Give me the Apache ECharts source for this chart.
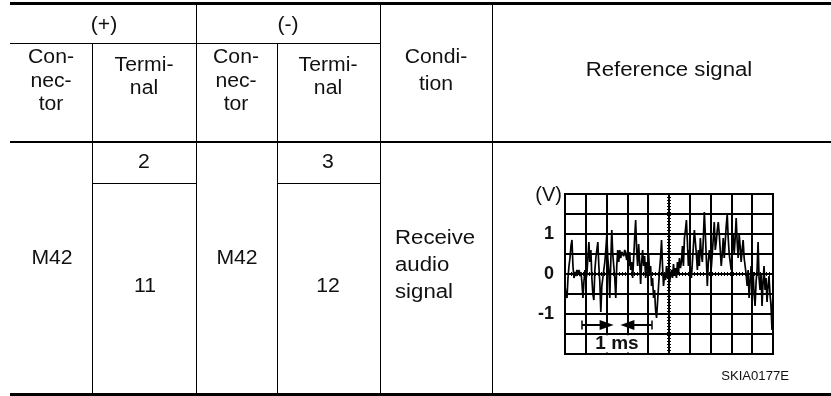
<!DOCTYPE html>
<html>
<head>
<meta charset="utf-8">
<script src="https://cdn.jsdelivr.net/npm/echarts@6/dist/echarts.min.js"></script>
<style>
html,body{margin:0;padding:0;background:#fff;}
#c{width:831px;height:396px;}
</style>
</head>
<body>
<div id="c"></div>
<script>
// ---- Table content ----
const headerGroups = ['(+)', '(-)'];
const headerCols = ['Con-\nnec-\ntor', 'Termi-\nnal', 'Con-\nnec-\ntor', 'Termi-\nnal', 'Condi-\ntion', 'Reference signal'];
const plusConnector = 'M42';
const plusTerminals = ['2', '11'];
const minusConnector = 'M42';
const minusTerminals = ['3', '12'];
const conditionText = 'Receive\naudio\nsignal';
const figureCode = 'SKIA0177E';

// ---- Oscilloscope trace: volts, one sample per screen column across 10 divisions (1 ms/div) ----
const spanMs = 10;
const yTickLabels = ['1', '0', '-1'];
const timeMarkLabel = '1 ms';
const volts = [
 -0.3,-0.5,-0.6,-0.1,0.2,0.4,0.7,0.85,0.2,-0.1,
 0.05,-0.05,0.1,0.0,0.1,-0.05,0.05,-0.2,-0.6,-0.2,
 0.1,-0.15,0.0,0.4,0.8,0.3,0.6,-0.1,-0.5,-0.65,
 0.1,0.4,0.6,0.8,0.2,-0.2,-0.95,-0.3,-0.1,0.1,
 0.3,0.6,0.97,0.4,0.1,-0.6,0.3,1.1,0.5,0.2,
 -0.1,-0.6,0.2,0.6,0.3,0.6,0.4,0.55,0.6,0.45,
 0.6,0.5,0.35,0.6,0.2,0.55,0.1,0.3,-0.1,0.4,
 0.9,1.35,0.6,0.2,0.75,0.3,-0.25,0.3,0.6,0.2,
 0.45,-0.1,0.3,0.1,0.5,0.05,0.2,-0.3,-0.1,-0.6,
 -0.4,-0.9,-1.1,-0.7,-0.3,0.1,0.4,0.85,0.2,-0.3,
 0.0,-0.15,0.2,-0.1,0.15,-0.2,-0.05,0.1,-0.1,0.25,
 -0.05,0.15,-0.1,0.3,0.0,0.4,0.15,0.3,0.7,0.2,
 0.9,1.1,1.35,0.8,0.2,0.6,0.1,-0.1,0.3,0.7,
 1.1,1.1,0.5,0.1,0.6,0.2,0.9,0.5,0.3,0.9,
 1.55,1.0,0.4,-0.3,0.3,0.6,0.4,0.15,0.5,0.9,
 1.3,0.6,0.8,1.1,1.3,1.0,0.6,0.2,0.5,0.9,
 0.4,0.8,1.2,1.5,0.9,0.5,0.3,0.1,0.6,1.0,
 0.5,0.9,1.4,0.8,0.4,1.0,0.7,0.3,0.6,0.85,
 0.4,0.2,0.0,-0.3,0.1,-0.6,-0.2,0.2,-0.3,0.05,
 -0.5,-0.8,-0.2,0.1,0.8,-0.1,-0.4,0.0,-0.8,-0.2,
 0.2,-0.4,-0.1,-0.7,-0.3,-0.05,-0.5,-0.8,-1.4,-0.4
];

const trace = volts.map((v, i) => [i * spanMs / (volts.length - 1), v]);

const FONT = '"Liberation Sans", Arial, Helvetica, sans-serif';
const INK = '#111';

function hline(x1, x2, y, h) {
  return {type: 'rect', shape: {x: x1, y: y, width: x2 - x1, height: h}, style: {fill: '#000'}, silent: true};
}
function vline(x, y1, y2, w) {
  return {type: 'rect', shape: {x: x, y: y1, width: w || 1, height: y2 - y1}, style: {fill: '#000'}, silent: true};
}
function txt(s, x, y, opts) {
  opts = opts || {};
  return {
    type: 'text', x: x, y: y, silent: true, scaleX: opts.sx || 1.06,
    style: {
      text: s, fill: INK, font: (opts.size || 20) + 'px ' + FONT,
      align: opts.align || 'center', verticalAlign: 'middle', lineHeight: opts.lh || 23
    }
  };
}

const graphics = [
  hline(10, 831, 2, 3),
  hline(10, 380, 43, 1),
  hline(10, 831, 141, 2),
  hline(10, 831, 393, 3),
  vline(92, 43, 393),
  vline(196, 5, 393),
  vline(277, 43, 393),
  vline(380, 5, 393),
  vline(492, 5, 393),
  hline(92, 196, 183, 1),
  hline(277, 380, 183, 1),
  txt(headerGroups[0], 104, 25),
  txt(headerGroups[1], 288, 25),
  txt(headerCols[0], 51, 81, {lh: 23.5}),
  txt(headerCols[1], 144, 76.5, {lh: 23}),
  txt(headerCols[2], 236, 81, {lh: 23.5}),
  txt(headerCols[3], 328, 76.5, {lh: 23}),
  txt(headerCols[4], 436, 70.5, {lh: 27}),
  txt(headerCols[5], 669, 70, {sx: 1.11}),
  txt(plusTerminals[0], 144, 162),
  txt(minusTerminals[0], 328, 162),
  txt(plusConnector, 52, 258),
  txt(minusConnector, 237, 258),
  txt(plusTerminals[1], 145, 286),
  txt(minusTerminals[1], 328, 286),
  txt(conditionText, 395, 265, {align: 'left', lh: 27, sx: 1.11}),
  txt(figureCode, 789, 377, {size: 12.5, align: 'right', sx: 1.05})
];

const chart = echarts.init(document.getElementById('c'), null, {renderer: 'canvas'});
chart.setOption({
  animation: false,
  backgroundColor: '#fff',
  grid: {left: 565, top: 194, width: 208, height: 160, show: true, borderColor: '#000', borderWidth: 2, containLabel: false},
  xAxis: {
    type: 'value', min: 0, max: spanMs, interval: 1,
    axisLine: {show: false}, axisTick: {show: false}, axisLabel: {show: false},
    splitLine: {show: true, lineStyle: {color: '#000', width: 2}}
  },
  yAxis: {
    type: 'value', min: -2, max: 2, interval: 0.5,
    name: '(V)', nameLocation: 'end', nameGap: -1,
    nameTextStyle: {fontFamily: FONT, fontSize: 20, color: INK, align: 'right', verticalAlign: 'middle', padding: [0, 3, 0, 0]},
    axisLine: {show: false}, axisTick: {show: false},
    axisLabel: {
      margin: 11, fontFamily: FONT, fontSize: 18, fontWeight: 'bold', color: INK,
      formatter: v => (yTickLabels.indexOf(String(v)) >= 0 ? String(v) : '')
    },
    splitLine: {show: true, lineStyle: {color: '#000', width: 2}}
  },
  series: [
    {
      type: 'line', data: [], z: 1, silent: true,
      markLine: {
        silent: true, animation: false, symbol: 'none',
        label: {show: false},
        lineStyle: {color: '#000', width: 4, type: [1, 2]},
        data: [
          {xAxis: spanMs / 2},
          {yAxis: 0},
          [{coord: [0.82, -1.275], symbol: 'none', lineStyle: {type: 'solid', width: 2}}, {coord: [2, -1.275], symbol: 'triangle', symbolSize: [10, 14]}],
          [{coord: [4.17, -1.275], symbol: 'none', lineStyle: {type: 'solid', width: 2}}, {coord: [3, -1.275], symbol: 'triangle', symbolSize: [10, 14]}],
          [{coord: [0.82, -1.16], symbol: 'none', lineStyle: {type: 'solid', width: 1.5}}, {coord: [0.82, -1.39], symbol: 'none'}],
          [{coord: [4.17, -1.16], symbol: 'none', lineStyle: {type: 'solid', width: 1.5}}, {coord: [4.17, -1.39], symbol: 'none'}]
        ]
      },
      markArea: {
        silent: true,
        itemStyle: {color: '#fff'},
        label: {show: true, position: 'inside', formatter: timeMarkLabel, fontFamily: FONT, fontSize: 19, fontWeight: 'bold', color: INK},
        data: [[{coord: [1.06, -1.53]}, {coord: [3.94, -1.96]}]]
      }
    },
    {
      type: 'line', data: trace, z: 3, silent: true,
      showSymbol: false, symbol: 'none',
      lineStyle: {color: '#000', width: 1.7},
      clip: true
    }
  ],
  graphic: graphics
});
</script>
</body>
</html>
